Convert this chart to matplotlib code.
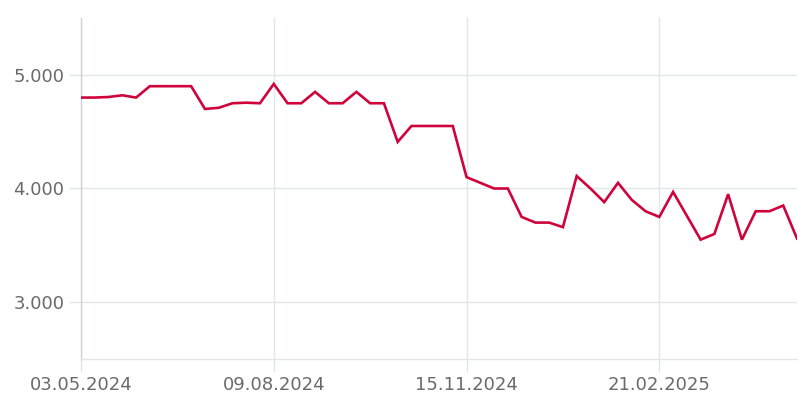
import matplotlib
matplotlib.use("Agg")
import matplotlib.pyplot as plt
import matplotlib.ticker as mticker
import datetime as dt

start = dt.date(2024, 5, 3)
dates = [start + dt.timedelta(weeks=i) for i in range(53)]
values = [4800, 4800, 4805, 4820, 4800, 4900, 4900, 4900, 4900, 4700,
          4710, 4750, 4755, 4750, 4920, 4750, 4750, 4850, 4750, 4750,
          4850, 4750, 4750, 4410, 4550, 4550, 4550, 4550, 4100, 4050,
          4000, 4000, 3750, 3700, 3700, 3660, 4110, 4000, 3880, 4050,
          3900, 3800, 3750, 3970, 3760, 3550, 3600, 3950, 3550, 3800,
          3800, 3850, 3560]
tick_dates = [dt.date(2024, 5, 3), dt.date(2024, 8, 9), dt.date(2024, 11, 15), dt.date(2025, 2, 21)]
tick_labels = ["03.05.2024", "09.08.2024", "15.11.2024", "21.02.2025"]
y_ticks = [3000, 4000, 5000]

fig = plt.figure(figsize=(8.05, 4.08), dpi=100)
ax = fig.add_axes([81/805, 1-359/408, (797-81)/805, (359-18)/408])

grid_c = "#e3e6e9"
ax.plot(dates, values, color="#d0043c", lw=1.9, solid_joinstyle="miter", zorder=3)
ax.set_xlim(dates[0], dates[-1])
ax.set_ylim(2500, 5500)
ax.set_xticks(tick_dates)
ax.set_xticklabels(tick_labels)
ax.set_yticks(y_ticks)
ax.yaxis.set_major_formatter(mticker.FuncFormatter(lambda v, p: f"{int(v):,}".replace(",", ".")))
ax.grid(True, color=grid_c, lw=1.0)
ax.set_axisbelow(True)
for s in ["top", "right"]:
    ax.spines[s].set_visible(False)
ax.spines["left"].set_color("#cdd2d7")
ax.spines["left"].set_linewidth(1.0)
ax.spines["bottom"].set_color(grid_c)
ax.spines["bottom"].set_linewidth(1.0)
ax.tick_params(axis="both", colors=grid_c, labelcolor="#6a6a6a", labelsize=13, length=9, width=1.0)
ax.tick_params(axis="x", pad=3)
ax.tick_params(axis="y", pad=3)
for lab in ax.get_xticklabels() + ax.get_yticklabels():
    lab.set_fontfamily("DejaVu Sans")
fig.savefig("out.png", dpi=100, facecolor="white")
